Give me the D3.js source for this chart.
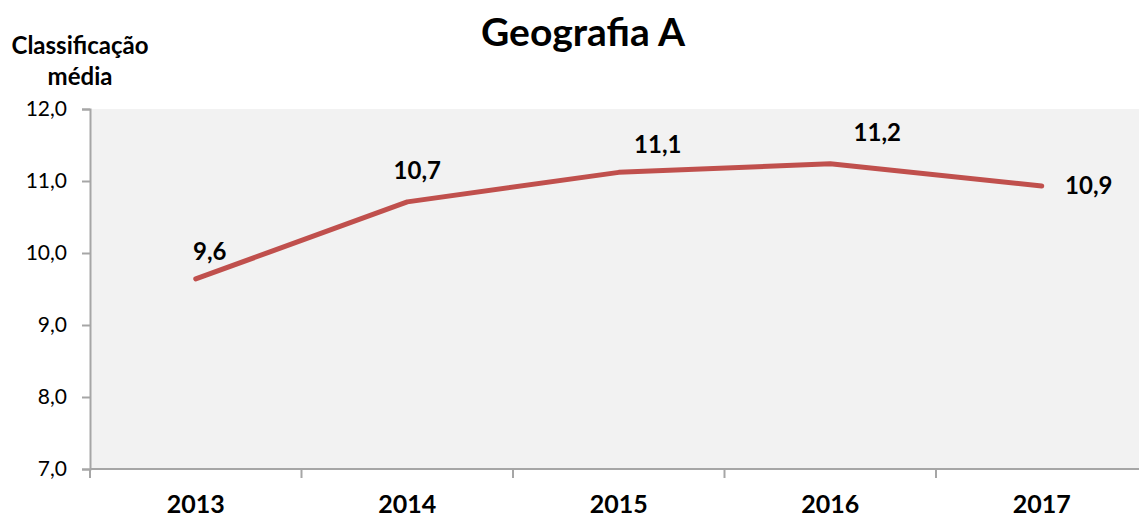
<!DOCTYPE html>
<html><head><meta charset="utf-8">
<script src="https://cdn.jsdelivr.net/npm/d3@7"></script>
<style>body{margin:0;background:#fff}svg{display:block}text{font-family:Lato,"Open Sans",sans-serif}</style>
</head><body>
<svg id="c" width="1139" height="520"></svg>
<script>
const years = ["2013","2014","2015","2016","2017"];
const values = [9.64, 10.71, 11.12, 11.24, 10.93];
const yTicks = [7,8,9,10,11,12];
const title = "Geografia A";
const yTitle = ["Classificação","média"];
// label offsets (dx, dy) relative to point, in px
const labelOffsets = [[14,-25],[10,-29],[39,-26],[47,-29],[47,2]];

const svg = d3.select("#c");
const m = {l:90, t:109, b:469};
const x = d3.scaleBand().domain(years).range([m.l, m.l + 5*211.5]);
const y = d3.scaleLinear().domain([7,12]).range([m.b, m.t]);

svg.append("rect").attr("x", m.l).attr("y", m.t).attr("width", 1139-m.l).attr("height", m.b-m.t).attr("fill","#f2f2f2");

const yAx = svg.append("g").attr("transform",`translate(${m.l},0)`)
  .call(d3.axisLeft(y).tickValues(yTicks).tickSize(8).tickPadding(15).tickFormat(d=>d3.format(".1f")(d).replace(".",",")));
yAx.selectAll("text").attr("font-size",21).attr("fill","#000");
yAx.selectAll("line,path").attr("stroke","#a6a6a6").attr("stroke-width",2);

const xAx = svg.append("g").attr("transform",`translate(0,${m.b})`)
  .call(d3.axisBottom(x).tickSize(0).tickPadding(26));
xAx.selectAll("text").attr("font-size",25).attr("font-weight","bold").attr("fill","#000");
xAx.select("path").attr("stroke","#a6a6a6").attr("stroke-width",2).attr("d",`M${m.l},0H1139`);
xAx.selectAll(".bt").data(years.slice(1)).enter().append("line").attr("class","bt")
  .attr("x1",d=>x(d)).attr("x2",d=>x(d)).attr("y1",0).attr("y2",9).attr("stroke","#a6a6a6").attr("stroke-width",2);
xAx.append("line").attr("x1",m.l).attr("x2",m.l).attr("y1",0).attr("y2",9).attr("stroke","#a6a6a6").attr("stroke-width",2);

const cx = d => x(d) + x.bandwidth()/2;
svg.append("path").datum(values.map((v,i)=>[cx(years[i]), y(v)]))
  .attr("d", d3.line()).attr("fill","none").attr("stroke","#c0504d").attr("stroke-width",5).attr("stroke-linecap","round").attr("stroke-linejoin","round");

svg.selectAll(".lbl").data(values).enter().append("text")
  .attr("x",(v,i)=>cx(years[i])+labelOffsets[i][0]).attr("y",(v,i)=>y(v)+labelOffsets[i][1])
  .attr("text-anchor","middle").attr("dominant-baseline","middle")
  .attr("font-size",24).attr("font-weight","bold")
  .text(v=>d3.format(".1f")(v).replace(".",","));

svg.append("text").attr("x",583).attr("y",46).attr("text-anchor","middle").attr("font-size",39).attr("font-weight","bold").text(title);
svg.append("text").attr("x",80).attr("y",54).attr("text-anchor","middle").attr("font-size",24).attr("font-weight","bold").text(yTitle[0]);
svg.append("text").attr("x",80).attr("y",85).attr("text-anchor","middle").attr("font-size",24).attr("font-weight","bold").text(yTitle[1]);
</script>
</body></html>
